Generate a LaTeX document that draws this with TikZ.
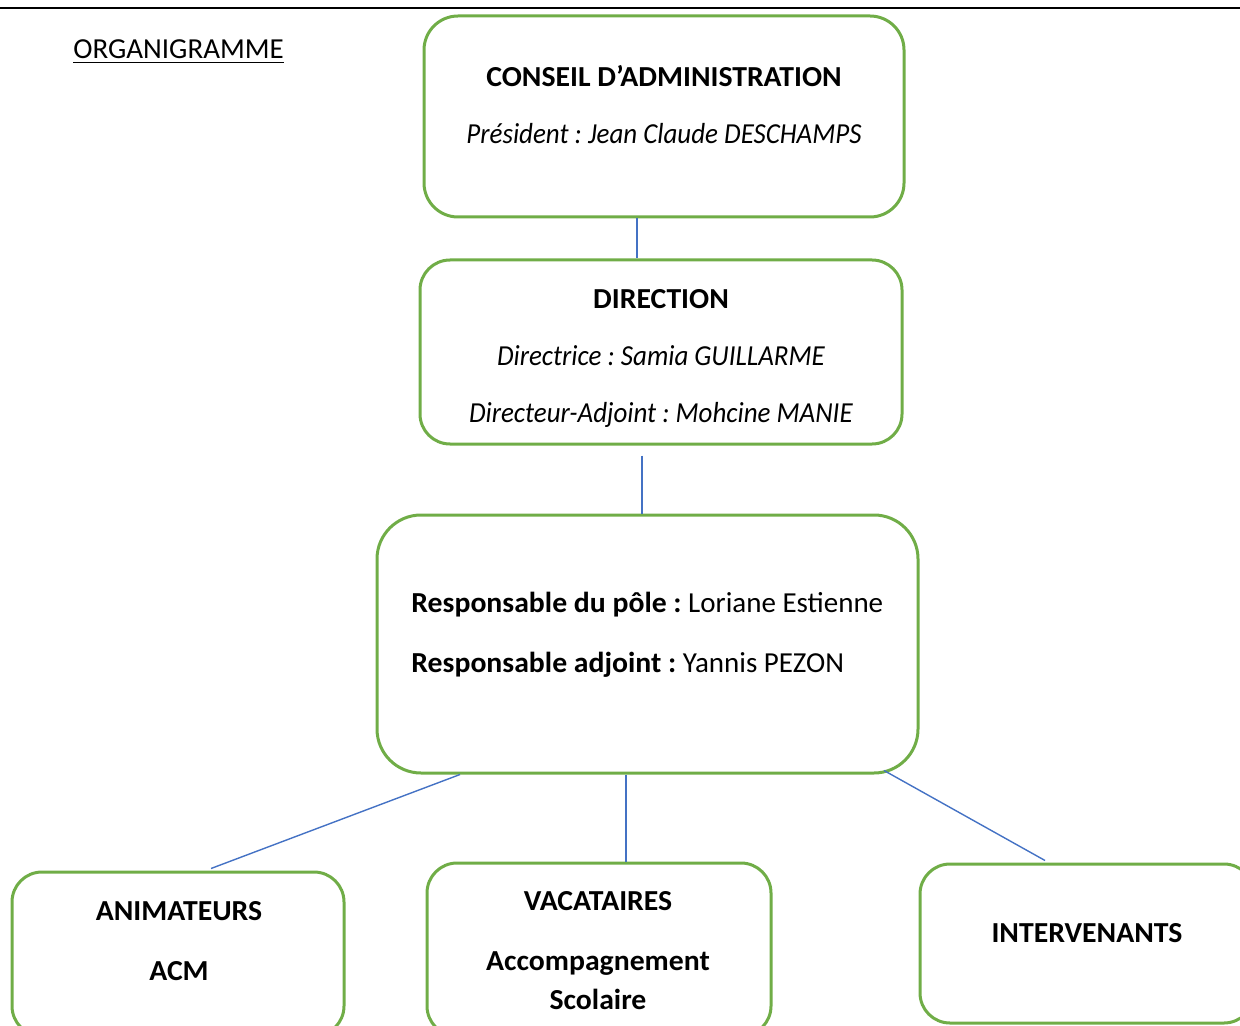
\documentclass[tikz,border=0pt]{standalone}
\usepackage{fontspec}
\setmainfont{Carlito}[
    ItalicFeatures={FakeStretch=0.93},
    BoldFeatures={FakeStretch=1.025}]
\frenchspacing

\definecolor{boxgreen}{HTML}{70AD47}
\definecolor{linkblue}{HTML}{4472C4}

\tikzset{
    box/.style={draw=boxgreen,line width=1.5pt,rounded corners=#1,inner sep=0pt},
    box/.default=15pt,
    txt/.style={anchor=base,inner sep=0pt},
    link/.style={draw=linkblue,line width=0.7pt}
}

\begin{document}
\begin{tikzpicture}[x=0.5pt,y=-0.5pt,
    every node/.style={font=\fontsize{14.5}{17}\selectfont}]

\clip (0,0) rectangle (1240,1026);

% top rule
\draw[line width=1.2pt] (0,8) -- (1240,8);

% title
\node[txt,anchor=base west] (title) at (73,59) {\underline{ORGANIGRAMME}};

% boxes
\node[box=17pt,minimum width=240pt,minimum height=100.5pt]   (cons) at (664,116.5)  {};
\node[box=15pt,minimum width=241pt,minimum height=92pt]      (dir)  at (661,352)    {};
\node[box=22pt,minimum width=270.5pt,minimum height=129pt]   (pole) at (647.5,644)  {};
\node[box=15pt,minimum width=166pt,minimum height=82pt]      (anim) at (178,954)    {};
\node[box=15pt,minimum width=172pt,minimum height=86.5pt]    (vac)  at (599,949.5)  {};
\node[box=15pt,minimum width=167pt,minimum height=79.5pt]    (int)  at (1087,943.5) {};

% links
\draw[link] ([xshift=-13.5pt]cons.south)         -- ([xshift=-12pt]dir.north);
\draw[link] ([xshift=-9.5pt,yshift=-5pt]dir.south) -- ([xshift=-2.75pt]pole.north);
\draw[link] ([xshift=-93.75pt]pole.south)        -- ([xshift=16.5pt,yshift=1pt]anim.north);
\draw[link] ([xshift=-10.75pt]pole.south)        -- ([xshift=13.5pt]vac.north);
\draw[link] ([xshift=118.25pt,yshift=2pt]pole.south) -- ([xshift=-21pt,yshift=1pt]int.north);

% labels
\node[txt] (consA) at (664,87)  {\textbf{CONSEIL D’ADMINISTRATION}};
\node[txt] (consB) at (664,144) {\textit{Président : Jean Claude DESCHAMPS}};
\node[txt] (dirA)  at (661,308) {\textbf{DIRECTION}};
\node[txt] (dirB)  at (661,365) {\textit{Directrice : Samia GUILLARME}};
\node[txt] (dirC)  at (661,422) {\textit{Directeur-Adjoint : Mohcine MANIE}};
\node[txt,anchor=base west] (poleA) at (411,612) {\textbf{Responsable du pôle :} Loriane Estienne};
\node[txt,anchor=base west] (poleB) at (411,672) {\textbf{Responsable adjoint :} Yannis PEZON};
\node[txt] (animA) at (179,920)  {\textbf{ANIMATEURS}};
\node[txt] (animB) at (179,980)  {\textbf{ACM}};
\node[txt] (vacA)  at (598,910)  {\textbf{VACATAIRES}};
\node[txt] (vacB)  at (598,970)  {\textbf{Accompagnement}};
\node[txt] (vacC)  at (598,1009) {\textbf{Scolaire}};
\node[txt] (intA)  at (1087,942) {\textbf{INTERVENANTS}};

\end{tikzpicture}
\end{document}
